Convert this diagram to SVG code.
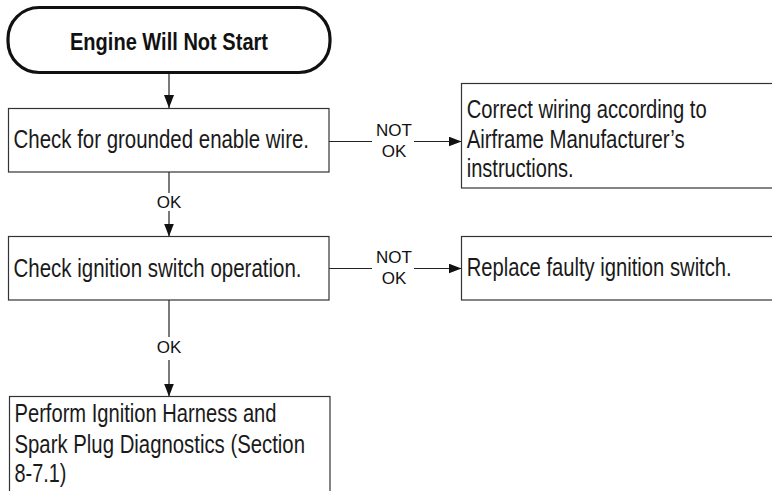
<svg xmlns="http://www.w3.org/2000/svg" width="772" height="491" viewBox="0 0 772 491">
  <style>
    .box { fill: #fff; stroke: #333; stroke-width: 1.2; }
    .term { fill: #fff; stroke: #111; stroke-width: 3.2; }
    .txt { font-family: "Liberation Sans Narrow", "Arial Narrow", "Liberation Sans", Arial, sans-serif; font-size: 25px; fill: #1a1a1a; }
    .title { font-family: "Liberation Sans Narrow", "Arial Narrow", "Liberation Sans", Arial, sans-serif; font-size: 24px; font-weight: bold; fill: #111; }
    .lbl { font-family: "Liberation Sans", Arial, sans-serif; font-size: 17px; fill: #111; text-anchor: middle; }
    .wire { fill: none; stroke: #222; stroke-width: 1.2; }
  </style>
  <defs>
    <marker id="ah" viewBox="0 0 13 10" refX="13" refY="5" markerWidth="13" markerHeight="10" markerUnits="userSpaceOnUse" orient="auto">
      <path d="M0,0 L13,5 L0,10 z" fill="#111"/>
    </marker>
  </defs>
  <rect width="772" height="491" fill="#fff"/>

  <!-- connectors -->
  <g id="connectors">
    <path class="wire" d="M169,73 V108" marker-end="url(#ah)"/>
    <path class="wire" d="M169,172 V193"/>
    <text class="lbl" x="169" y="208">OK</text>
    <path class="wire" d="M169,211 V236.5" marker-end="url(#ah)"/>

    <path class="wire" d="M169,300 V337"/>
    <text class="lbl" x="169" y="353">OK</text>
    <path class="wire" d="M169,360 V396.5" marker-end="url(#ah)"/>

    <path class="wire" d="M329,141.5 H372"/>
    <text class="lbl" x="394" y="135.5">NOT</text>
    <text class="lbl" x="394" y="157">OK</text>
    <path class="wire" d="M414,141.5 H461.5" marker-end="url(#ah)"/>

    <path class="wire" d="M329,268.5 H372"/>
    <text class="lbl" x="394" y="262.5">NOT</text>
    <text class="lbl" x="394" y="284">OK</text>
    <path class="wire" d="M414,268.5 H461.5" marker-end="url(#ah)"/>
  </g>

  <g id="start">
    <rect class="term" x="8" y="7.5" width="322" height="65" rx="31" ry="31"/>
    <text class="title" x="70" y="50" textLength="198" lengthAdjust="spacingAndGlyphs">Engine Will Not Start</text>
  </g>

  <g id="check-enable-wire">
    <rect class="box" x="8.5" y="108.5" width="320.5" height="63.5"/>
    <text class="txt" x="13.5" y="148.3" textLength="295.5" lengthAdjust="spacingAndGlyphs">Check for grounded enable wire.</text>
  </g>

  <g id="correct-wiring">
    <rect class="box" x="461.5" y="83.5" width="320" height="104.5"/>
    <text class="txt" x="466.7" y="118.3" textLength="240" lengthAdjust="spacingAndGlyphs">Correct wiring according to</text>
    <text class="txt" x="466.7" y="148" textLength="218" lengthAdjust="spacingAndGlyphs">Airframe Manufacturer’s</text>
    <text class="txt" x="466.7" y="177" textLength="107" lengthAdjust="spacingAndGlyphs">instructions.</text>
  </g>

  <g id="check-switch">
    <rect class="box" x="8.5" y="236.5" width="320.5" height="63.5"/>
    <text class="txt" x="13.5" y="276.5" textLength="288" lengthAdjust="spacingAndGlyphs">Check ignition switch operation.</text>
  </g>

  <g id="replace-switch">
    <rect class="box" x="461.5" y="236.5" width="320" height="63.5"/>
    <text class="txt" x="466.7" y="276" textLength="265" lengthAdjust="spacingAndGlyphs">Replace faulty ignition switch.</text>
  </g>

  <g id="harness-diagnostics">
    <rect class="box" x="9.5" y="396.5" width="320.5" height="110"/>
    <text class="txt" x="14.5" y="421.7" textLength="262" lengthAdjust="spacingAndGlyphs">Perform Ignition Harness and</text>
    <text class="txt" x="14.5" y="453" textLength="290.5" lengthAdjust="spacingAndGlyphs">Spark Plug Diagnostics (Section</text>
    <text class="txt" x="14.5" y="481.7" textLength="52" lengthAdjust="spacingAndGlyphs">8-7.1)</text>
  </g>
</svg>
